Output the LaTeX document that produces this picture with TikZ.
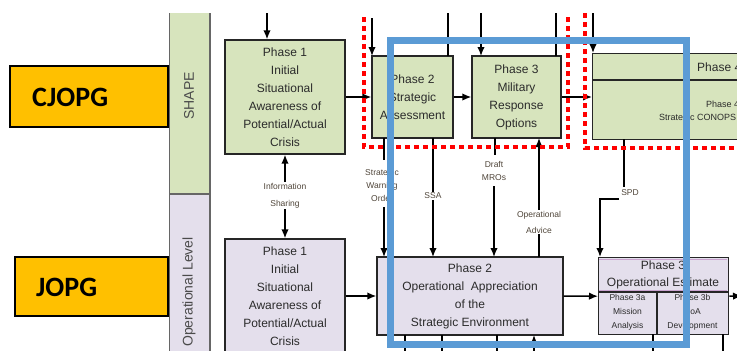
\documentclass[tikz,border=0pt]{standalone}
\usepackage{fontspec}
\setmainfont{Liberation Sans}
\newfontfamily\calfont{Carlito}
\usetikzlibrary{arrows.meta}
\definecolor{gfill}{HTML}{D7E4BD}
\definecolor{lfill}{HTML}{E4DFEC}
\definecolor{orng}{HTML}{FFC000}
\definecolor{blu}{HTML}{5B9BD5}
\definecolor{txt}{HTML}{2B2B2B}
\definecolor{lbltxt}{HTML}{4F4539}
\definecolor{pinkln}{HTML}{C9A3CF}
\begin{document}
\begin{tikzpicture}[x=1pt,y=-1pt,
  box/.style={draw=black!85, line width=1.4pt, text=txt, align=center, inner sep=0pt},
  gbox/.style={box, fill=gfill},
  lbox/.style={box, fill=lfill},
  bigtxt/.style={font=\fontsize{12}{18}\selectfont},
  arr/.style={-{Latex[length=9pt,width=7.5pt]}, line width=1.5pt},
  ln/.style={line width=1.5pt},
  lbl/.style={text=lbltxt, font=\fontsize{8.5}{13}\selectfont, align=center, inner sep=1pt},
  band/.style={draw=black!60, line width=1.1pt},
  tag/.style={draw=black, line width=1.6pt, fill=orng},
  tagtxt/.style={font=\calfont\bfseries\fontsize{28}{30}\selectfont, anchor=west, inner sep=0pt},
  reddash/.style={draw=red, line width=3.2pt, dash pattern=on 5pt off 4pt},
  bluebox/.style={draw=blu, line width=7pt}
]
\useasboundingbox (0,0) rectangle (737,351);
\clip (0,0) rectangle (737,351);

% level bands
\fill[gfill] (169.5,13) rectangle (210,194);
\fill[lfill] (169.5,194) rectangle (210,360);
\draw[band] (169.5,13) -- (169.5,360) (210,13) -- (210,360) (169.5,194) -- (210,194);
\node[rotate=90, font=\fontsize{14}{16}\selectfont, text=txt!85] (lvs) at (189,96) {SHAPE};
\node[rotate=90, font=\fontsize{14}{16}\selectfont, text=txt!85] (lvo) at (189,292) {Operational Level};

% orange tags
\draw[tag] (10,66) rectangle (168,127);
\node[tagtxt] (cj) at (32,97) {CJOPG};
\draw[tag] (15,257) rectangle (168,316);
\node[tagtxt] (jo) at (36,287) {JOPG};

% SHAPE boxes
\node[gbox, bigtxt, minimum width=120, minimum height=114] (s1) at (285,97)
  {Phase 1\\Initial\\Situational\\Awareness of\\Potential/Actual\\Crisis};
\node[gbox, bigtxt, minimum width=81, minimum height=82] (s2) at (412.5,97)
  {Phase 2\\Strategic\\Assessment};
\node[gbox, bigtxt, minimum width=89, minimum height=82] (s3) at (516.5,97)
  {Phase 3\\Military\\Response\\Options};
\node[gbox, minimum width=170, minimum height=86, anchor=north west] (s4) at (592,53) {};
\draw[line width=1.4pt, black!85] (592,80) -- (762,80);
\node[anchor=base west, inner sep=0pt, text=txt, font=\fontsize{12}{14}\selectfont] (s4t) at (697,71.5) {Phase 4};
\node[anchor=base west, inner sep=0pt, text=txt, font=\fontsize{9}{11}\selectfont] (s4a) at (706,107) {Phase 4};
\node[anchor=base west, inner sep=0pt, text=txt, font=\fontsize{9}{11}\selectfont] (s4b) at (659,120) {Strategic CONOPS};

% Operational boxes
\node[lbox, bigtxt, minimum width=120, minimum height=114] (o1) at (285,296)
  {Phase 1\\Initial\\Situational\\Awareness of\\Potential/Actual\\Crisis};
\node[lbox, bigtxt, minimum width=186, minimum height=78] (o2) at (470,296)
  {Phase 2\\Operational\ \ Appreciation\\of the\\Strategic Environment};
\node[lbox, minimum width=130, minimum height=77, anchor=north west] (o3) at (598,257) {};
\draw[pinkln, line width=1pt] (599,259.8) -- (727,259.8) (599,290) -- (727,290);
\draw[line width=1.4pt, black!85] (598,292) -- (728,292) (657,292) -- (657,334);
\node[text=txt, align=center, inner sep=0pt, font=\fontsize{12}{17}\selectfont] (o3h) at (663,274.5)
  {Phase 3\\Operational Estimate};
\node[text=txt, align=center, inner sep=0pt, font=\fontsize{8.5}{13.8}\selectfont] (o3a) at (627.5,312.5)
  {Phase 3a\\Mission\\Analysis};
\node[text=txt, align=center, inner sep=0pt, font=\fontsize{8.5}{13.8}\selectfont] (o3b) at (692.5,312.5)
  {Phase 3b\\CoA\\Development};

% top inputs / outputs
\coordinate (t1) at (267,13);
\draw[arr] (t1) -- (s1.north -| t1);
\coordinate (t2) at (372,18);
\draw[arr] (t2) -- (372,56);
\draw[ln] (448,56) -- (448,13);
\coordinate (t3) at (481,13);
\draw[arr] (t3) -- (481,56);
\draw[ln] (556,56) -- (556,13);
\coordinate (t4) at (593,13);
\draw[arr] (t4) -- (593,53);

% horizontal flows
\draw[arr] (s1.east) -- (s2.west);
\draw[arr] (s2.east) -- (s3.west);
\draw[arr] (s3.east) -- (s4.west |- s3.east);
\draw[arr] (o1.east) -- (o2.west);
\draw[arr] (o2.east) -- (o3.west);
\coordinate (oe) at (742,296);
\draw[arr] (o3.east) -- (oe);

% information sharing
\node[lbl] (inf) at (285,186) {Information};
\node[lbl] (shr) at (285,204) {Sharing};
\draw[arr] (inf.north) -- (s1.south);
\draw[arr] (shr.south) -- (o1.north);

% strategic warning order
\node[lbl, font=\fontsize{8.5}{13}\selectfont] (swo) at (382,185) {Strategic\\Warning\\Order};
\draw[ln] (384,138) -- (384,160);
\draw[arr] (384,207) -- (384,257);

% SSA
\node[lbl] (ssa) at (433,196) {SSA};
\draw[ln] (433,138) -- (ssa.north);
\draw[arr] (ssa.south) -- (433,257);

% Draft MROs
\node[lbl, font=\fontsize{8.5}{13}\selectfont] (mro) at (494,170.5) {Draft\\MROs};
\draw[ln] (495,138) -- (495,155);
\draw[arr] (494,186) -- (494,257);

% Operational advice
\node[lbl, font=\fontsize{8.5}{16}\selectfont] (adv) at (539,222) {Operational\\Advice};
\draw[ln] (539,257) -- (adv.south);
\draw[arr] (adv.north) -- (539,138);

% SPD
\node[lbl] (spd) at (630,193) {SPD};
\draw[ln] (624,139) -- (624,187);
\draw[arr] (619,199) -- (600,199) -- (600,257);

% outputs below operational boxes
\coordinate (b1) at (405,360);
\coordinate (b2) at (442,360);
\coordinate (b3) at (497,360);
\coordinate (b4) at (534,360);
\draw[ln] (405,335) -- (b1) (442,335) -- (b2) (497,335) -- (b3);
\draw[arr] (b4) -- (534,335);
\draw[ln] (653,334) -- (653,360) (723,334) -- (723,360);

% red dashed groups
\draw[reddash] (364,17) -- (364,147) -- (568,147) -- (568,15);
\draw[reddash] (585,13) -- (585,148) -- (745,148);

% blue highlight
\draw[bluebox] (390,40.5) rectangle (686.5,344);
\end{tikzpicture}
\end{document}
